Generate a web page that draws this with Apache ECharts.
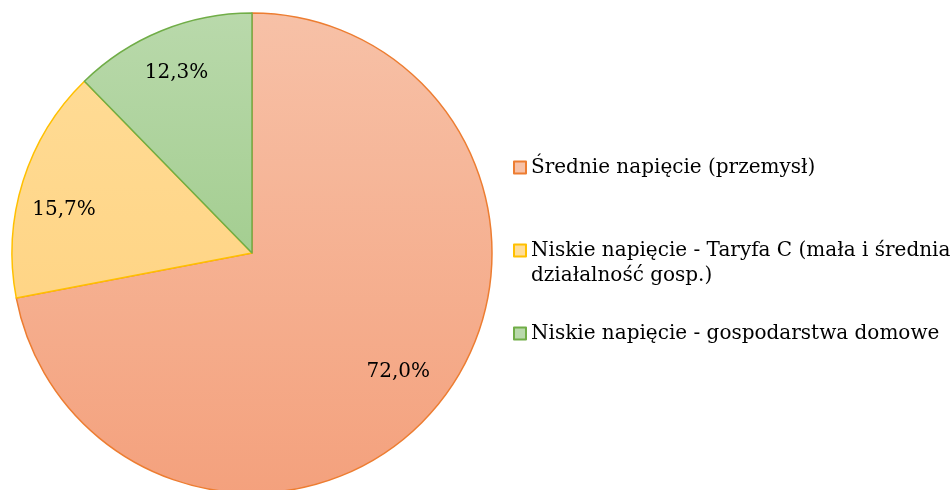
<!DOCTYPE html>
<html>
<head>
<meta charset="utf-8">
<script src="https://cdn.jsdelivr.net/npm/echarts@6/dist/echarts.min.js"></script>
<style>
  html, body { margin: 0; padding: 0; background: #fff; }
  #chart { width: 952px; height: 490px; }
</style>
</head>
<body>
<div id="chart"></div>
<script>
// Struktura zużycia energii wg grup taryfowych
const categories = [
  'Średnie napięcie (przemysł)',
  'Niskie napięcie - Taryfa C (mała i średnia\ndziałalność gosp.)',
  'Niskie napięcie - gospodarstwa domowe'
];
const shares = [72.0, 15.7, 12.3];
const labelTexts = ['72,0%', '15,7%', '12,3%'];

const fillTop = ['#f7c1a7', '#ffdd99', '#b9d9ab'];
const fillBottom = ['#f4a17d', '#ffcf78', '#8fc377'];
const edgeColors = ['#ed7d31', '#ffc000', '#70ad47'];

const FONT = 'DejaVu Serif';
const CX = 252, CY = 253, R = 240;

function gradient(i) {
  return new echarts.graphic.LinearGradient(0, CY - R, 0, CY + R, [
    { offset: 0, color: fillTop[i] },
    { offset: 1, color: fillBottom[i] }
  ], true);
}

const pieData = categories.map((name, i) => ({
  name: name,
  value: shares[i],
  itemStyle: { color: gradient(i), borderColor: edgeColors[i], borderWidth: 1.5 }
}));

// the yellow label sits a little lower than the ring midpoint
const labelOffsets = [[-4, -6], [-2, 15], [-2, 0]];
const labelData = categories.map((name, i) => ({
  name: name,
  value: shares[i],
  label: { formatter: labelTexts[i], offset: labelOffsets[i] }
}));

const chart = echarts.init(document.getElementById('chart'), null, { renderer: 'canvas' });
chart.setOption({
  backgroundColor: '#ffffff',
  animation: false,
  legend: {
    orient: 'vertical',
    left: 508,
    top: 150,
    itemWidth: 12,
    itemHeight: 12,
    itemGap: 33,
    icon: 'rect',
    selectedMode: false,
    // a leading blank line keeps the marker level with the first text line
    formatter: name => (name.indexOf('\n') >= 0 ? '\n' + name : name),
    textStyle: { fontFamily: FONT, fontSize: 20, color: '#000', lineHeight: 25 },
    data: categories
  },
  series: [
    {
      type: 'pie',
      center: [CX, CY],
      radius: [0, R],
      startAngle: 90,
      clockwise: true,
      silent: true,
      label: { show: false },
      labelLine: { show: false },
      data: pieData
    },
    {
      // transparent ring that only carries the percentage labels
      type: 'pie',
      center: [CX, CY],
      radius: [R * 0.6, R],
      startAngle: 90,
      clockwise: true,
      silent: true,
      legendHoverLink: false,
      itemStyle: { color: 'rgba(0,0,0,0)', borderWidth: 0 },
      label: {
        show: true,
        position: 'inside',
        fontFamily: FONT,
        fontSize: 20,
        color: '#000'
      },
      labelLine: { show: false },
      data: labelData
    }
  ]
});
</script>
</body>
</html>
